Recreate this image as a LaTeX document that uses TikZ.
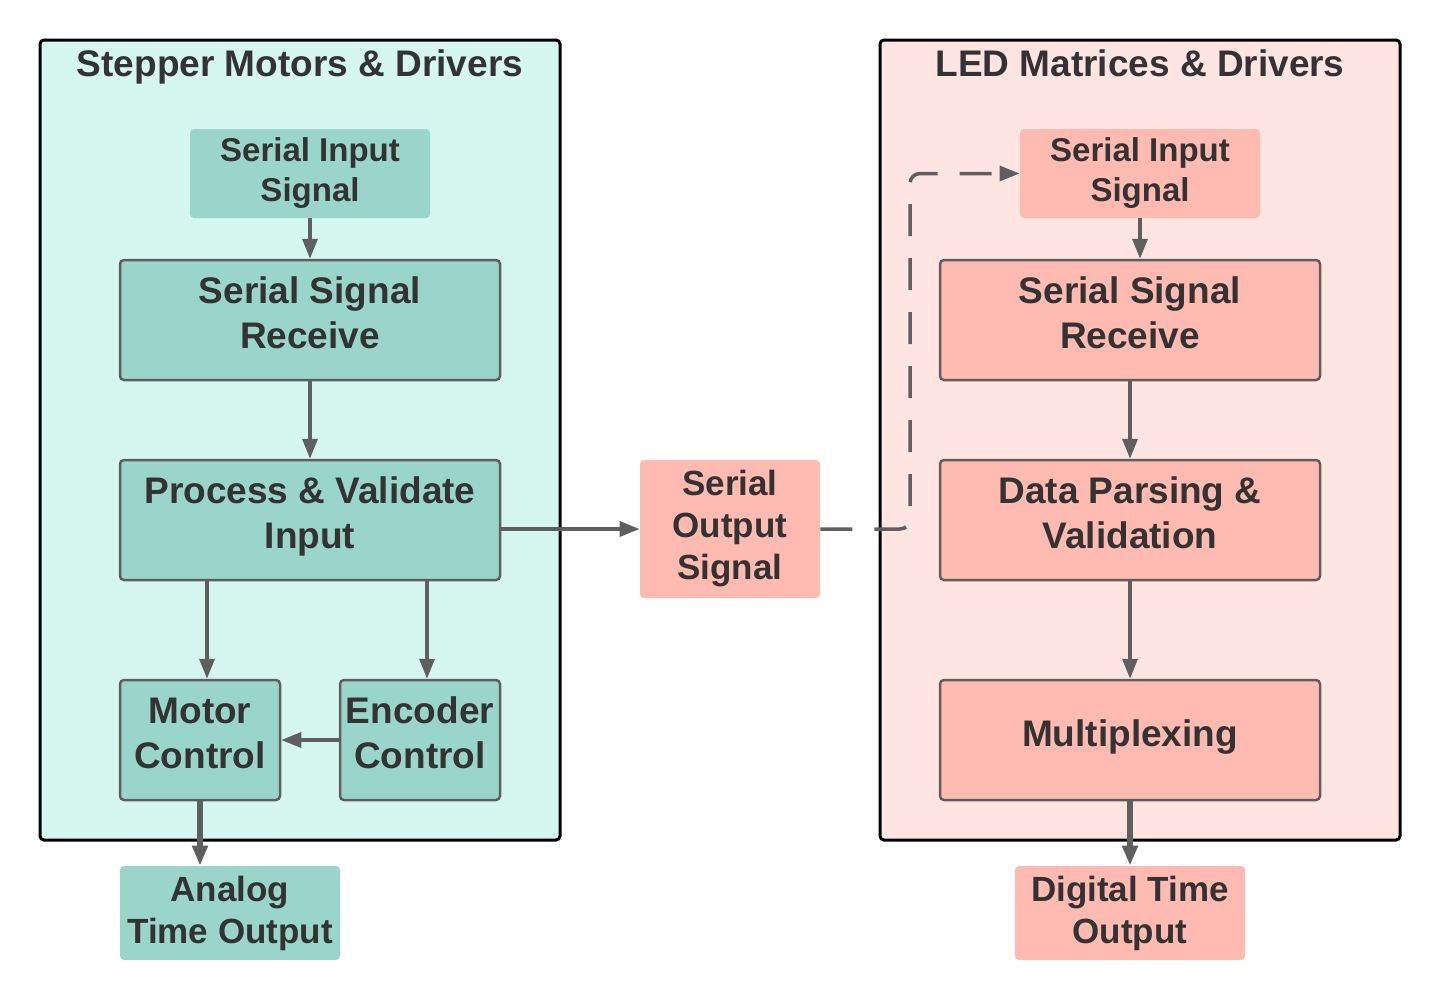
\documentclass[tikz,border=0pt]{standalone}
\usepackage{fontspec}
\setmainfont{Liberation Sans}
\usetikzlibrary{arrows.meta}

\definecolor{mintbg}{HTML}{D5F7F0}
\definecolor{rosebg}{HTML}{FFE5E2}
\definecolor{tealbox}{HTML}{9AD5CA}
\definecolor{salmonbox}{HTML}{FFBAB1}
\definecolor{edgegray}{HTML}{5F5F5F}
\definecolor{inkgray}{HTML}{333333}

\newcommand{\bigtxt}{\fontsize{18.5}{22.5}\selectfont\bfseries}
\newcommand{\midtxt}{\fontsize{17.5}{21}\selectfont\bfseries}
\newcommand{\smalltxt}{\fontsize{16.5}{20}\selectfont\bfseries}

\begin{document}
\begin{tikzpicture}[x=0.5pt, y=-0.5pt,
  panel/.style={draw=black, line width=1.5pt, rounded corners=2pt,
    minimum width=260pt, minimum height=400pt, inner sep=0pt},
  title/.style={text=inkgray, font=\bigtxt, inner sep=0pt, anchor=base},
  block/.style={draw=edgegray, line width=1.25pt, rounded corners=2pt,
    inner sep=0pt, align=center, text=inkgray, font=\bigtxt,
    minimum width=190pt, minimum height=60pt,
    execute at end node={\rule[-7pt]{0pt}{0pt}}},
  tag/.style={rounded corners=2pt, inner sep=0pt, align=center, text=inkgray},
  flow/.style={draw=edgegray, line width=1.75pt, -{Triangle[length=10pt,width=7.5pt]}},
  thickflow/.style={flow, line width=3pt}]

% page
\fill[white] (0,0) rectangle (1440,1002);
\useasboundingbox (0,0) rectangle (1440,1002);

% draw panels
\node[panel, fill=mintbg] (stepper) at (300,440) {};
\node[panel, fill=rosebg] (led) at (1140,440) {};
\node[title] (stepperT) at (300,76) {Stepper Motors \& Drivers};
\node[title] (ledT) at (1140,76) {LED Matrices \& Drivers};

% stepper side
\node[tag, fill=tealbox, font=\smalltxt, minimum width=120pt, minimum height=44.5pt]
  (inL) at (310,173.5) {Serial Input\\Signal};
\node[block, fill=tealbox] (recvL) at (310,320) {Serial Signal\\Receive};
\node[block, fill=tealbox] (check) at (310,520) {Process \& Validate\\Input};
\node[block, fill=tealbox, minimum width=80pt] (motor) at (200,740) {Motor\\Control};
\node[block, fill=tealbox, minimum width=80pt] (encoder) at (420,740) {Encoder\\Control};
\node[tag, fill=tealbox, font=\midtxt, minimum width=110pt, minimum height=47pt]
  (analog) at (230,913) {Analog\\Time Output};

% link between the two
\node[tag, fill=salmonbox, font=\midtxt, minimum width=90pt, minimum height=69pt]
  (outS) at (730,529) {Serial\\Output\\Signal};

% led side
\node[tag, fill=salmonbox, font=\smalltxt, minimum width=120pt, minimum height=44.5pt]
  (inR) at (1140,173.5) {Serial Input\\Signal};
\node[block, fill=salmonbox] (recvR) at (1130,320) {Serial Signal\\Receive};
\node[block, fill=salmonbox] (parse) at (1130,520) {Data Parsing \&\\Validation};
\node[block, fill=salmonbox] (mux) at (1130,740) {Multiplexing};
\node[tag, fill=salmonbox, font=\midtxt, minimum width=115pt, minimum height=47pt]
  (digital) at (1130,913) {Digital Time\\Output};

% stepper arrows
\draw[flow] (inL) -- (recvL);
\draw[flow] (recvL) -- (check);
\draw[flow] ([xshift=3.5pt]motor.north |- check.south) -- ([xshift=3.5pt]motor.north);
\draw[flow] ([xshift=3.5pt]encoder.north |- check.south) -- ([xshift=3.5pt]encoder.north);
\draw[flow] (encoder) -- (motor);
\draw[thickflow] (motor.south) -- (motor.south |- analog.north);

% serial output
\draw[flow] (check.east |- outS.west) -- (outS.west);
\draw[flow, dash pattern=on 16pt off 11pt, rounded corners=5pt]
  (outS.east) -- (910,529) -- (910,173.5) -- (inR.west);

% led arrows
\draw[flow] (inR.south) -- (inR.south |- recvR.north);
\draw[flow] (recvR) -- (parse);
\draw[flow] (parse) -- (mux);
\draw[thickflow] (mux) -- (digital);

\end{tikzpicture}
\end{document}
